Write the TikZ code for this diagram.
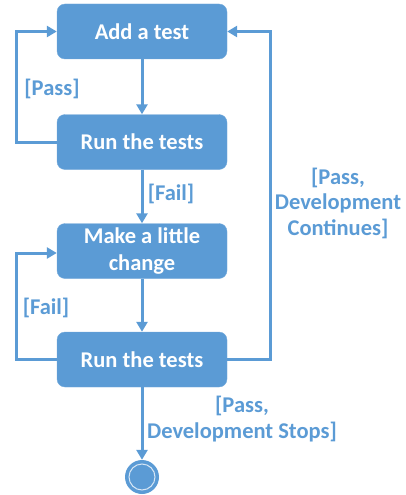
\documentclass[tikz,border=0pt]{standalone}
\usepackage{fontspec}
\setmainfont{Carlito}
\usetikzlibrary{arrows.meta}
\definecolor{tddblue}{HTML}{5B9BD5}
\tikzset{
  box/.style={rectangle, rounded corners=8pt, fill=tddblue, draw=tddblue!85!white,
    minimum width=170pt, minimum height=55pt, text=white, align=center,
    font=\fontsize{22.5}{27}\selectfont\bfseries},
  lbl/.style={text=tddblue, align=center, font=\fontsize{22.5}{25.5}\selectfont\bfseries},
  flow/.style={draw=tddblue, line width=3pt, ->},
  endstate/.style={circle, fill=tddblue, minimum size=34pt, inner sep=0pt}
}
\begin{document}
\begin{tikzpicture}[x=1pt, y=-1pt, >={Triangle[length=10pt, width=11pt]}]
\useasboundingbox (0,0) rectangle (406,495);
% activities
\node[box] (add) at (142,31.5) {Add a test};
\node[box] (run1) at (142,142) {Run the tests};
\node[box] (change) at (142,251) {Make a little\\change};
\node[box] (run2) at (142,359.5) {Run the tests};
\node[endstate] (end) at (142,477) {};
\draw[white!75!tddblue, line width=1pt] (end.center) circle (13);
% main flow
\draw[flow] (add) -- (run1);
\draw[flow] (run1) -- (change);
\draw[flow] (change) -- (run2);
\draw[flow] (run2) -- (end);
% loops
\draw[flow] (run1.west) -- ++(-40,0) |- (add.west);
\draw[flow] (run2.west) -- ++(-40,0) |- ([yshift=-2pt]change.west);
\draw[flow] (run2.east) -- ++(43,0) |- (add.east);
% guards
\node[lbl] (passlbl) at (52,89) {[Pass]};
\node[lbl] (faillbl) at (171,194) {[Fail]};
\node[lbl] (contlbl) at (338,203) {[Pass,\\Development\\Continues]};
\node[lbl] (faillbl2) at (46,308) {[Fail]};
\node[lbl] (stoplbl) at (242,419) {[Pass,\\Development Stops]};
\end{tikzpicture}
\end{document}
